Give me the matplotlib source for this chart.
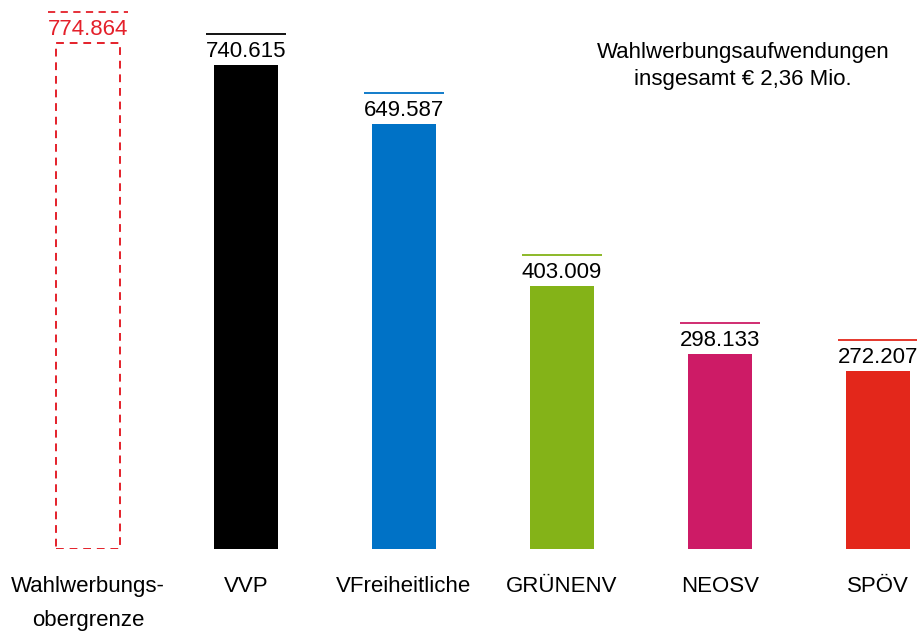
import matplotlib.pyplot as plt
from matplotlib.transforms import offset_copy

categories = ['Wahlwerbungs-\nobergrenze', 'VVP', 'VFreiheitliche', 'GRÜNENV', 'NEOSV', 'SPÖV']
values = [774.864, 740.615, 649.587, 403.009, 298.133, 272.207]
labels = ['774.864', '740.615', '649.587', '403.009', '298.133', '272.207']
colors = ['#E4202A', '#000000', '#0072C6', '#84B318', '#CD1B66', '#E3271B']

plt.rcParams['font.family'] = ['Liberation Sans', 'DejaVu Sans']

fig = plt.figure(figsize=(9.17, 6.34), dpi=100)
ax = fig.add_axes([0, 85 / 634, 1, 549 / 634])
ax.set_xlim(-88 / 158, (917 - 88) / 158)
ax.set_ylim(0, 549 / 0.6535)
ax.axis('off')

w = 0.405
for i, v in enumerate(values):
    if i == 0:
        ax.bar(i, v, width=w, facecolor='none', edgecolor=colors[i],
               linewidth=1.4, linestyle=(0, (4, 3)))
        txtcol = colors[i]
        ls = (0, (4, 3))
    else:
        ax.bar(i, v, width=w, color=colors[i], linewidth=0)
        txtcol = 'black'
        ls = '-'
    tr = offset_copy(ax.transData, fig=fig, x=0, y=8, units='dots')
    ax.text(i, v, labels[i], transform=tr, ha='center', va='baseline',
            fontsize=16, color=txtcol)
    tr2 = offset_copy(ax.transData, fig=fig, x=0, y=31, units='dots')
    ax.plot([i - 0.255, i + 0.255], [v, v], transform=tr2, color=colors[i],
            linewidth=1.3, linestyle=ls, solid_capstyle='butt')
    ax.text(i, -42, categories[i], ha='center', va='top', fontsize=16,
            linespacing=1.8)

fig.text(743 / 917, 1 - 66 / 634, 'Wahlwerbungsaufwendungen\ninsgesamt € 2,36 Mio.',
         ha='center', va='center', fontsize=16, linespacing=1.4)

fig.savefig('out.png', dpi=100)
